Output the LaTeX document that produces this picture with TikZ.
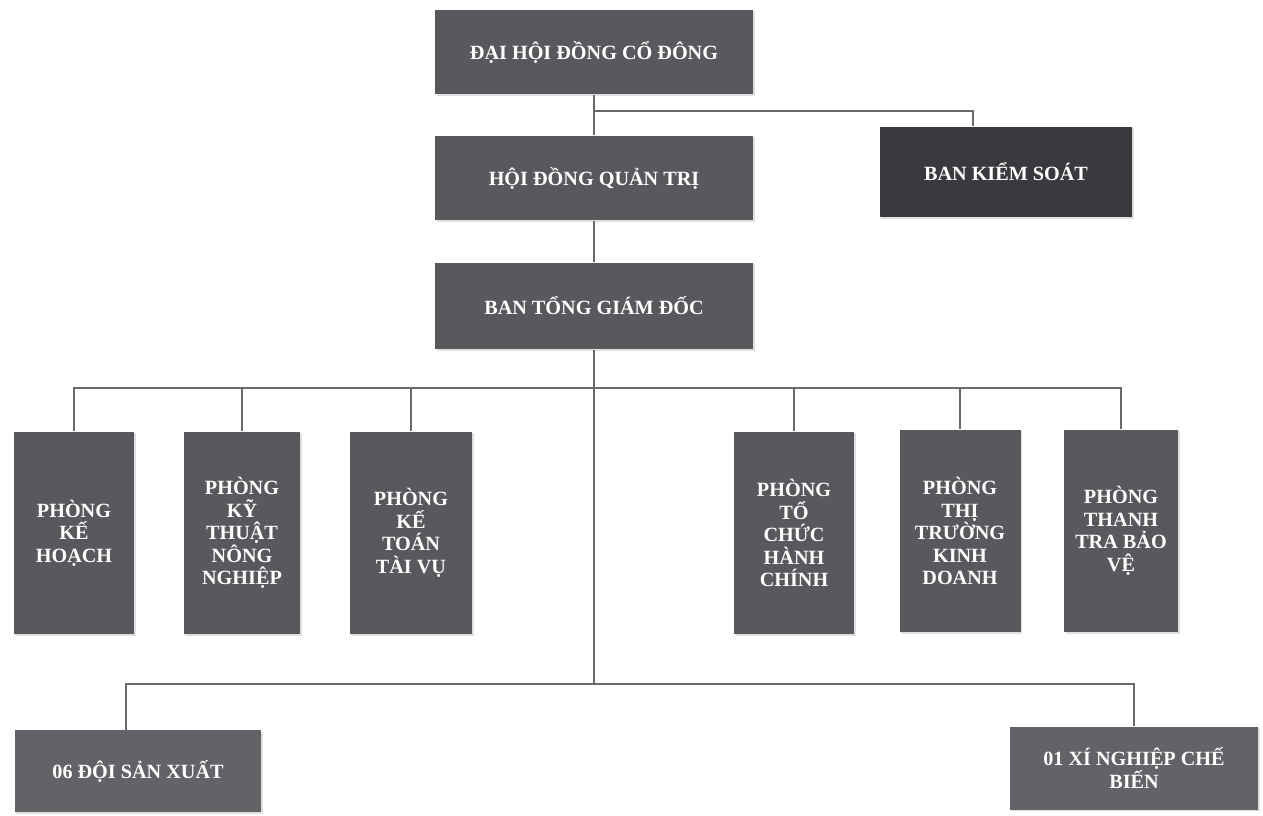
\documentclass[tikz,border=0pt]{standalone}
\usepackage{fontspec}
\setmainfont{Liberation Serif}
\usetikzlibrary{shadows}

\definecolor{boxgray}{RGB}{88,88,93}
\definecolor{boxdark}{RGB}{58,58,62}
\definecolor{boxlight}{RGB}{98,98,103}
\definecolor{linegray}{RGB}{105,105,105}

\tikzset{
  unit/.style={fill=boxgray, text=white, font=\bfseries\fontsize{11.5}{12.8}\selectfont,
    align=center, inner sep=2pt, drop shadow={opacity=0.25, shadow xshift=1pt, shadow yshift=-1pt}},
  widebox/.style={unit, minimum width=6.36cm, minimum height=1.7cm},
  tallbox/.style={unit, minimum width=2.4cm, minimum height=4.06cm},
  link/.style={draw=linegray, line width=0.8pt}
}

\begin{document}
\begin{tikzpicture}[x=0.02cm, y=-0.02cm]
  \useasboundingbox (0,0) rectangle (1263,815);

  % top levels
  \node[widebox] (dhdcd) at (594,52) {ĐẠI HỘI ĐỒNG CỔ ĐÔNG};
  \node[widebox] (hdqt) at (594,178) {HỘI ĐỒNG QUẢN TRỊ};
  \node[widebox, fill=boxdark, minimum width=5.06cm, minimum height=1.82cm] (bks) at (1006,172) {BAN KIỂM SOÁT};
  \node[widebox, minimum height=1.74cm] (btgd) at (594,306) {BAN TỔNG GIÁM ĐỐC};

  % departments
  \node[tallbox, minimum width=2.42cm] (pkh) at (74,533) {PHÒNG\\KẾ\\HOẠCH};
  \node[tallbox, minimum width=2.34cm] (pktnn) at (242,533) {PHÒNG\\KỸ\\THUẬT\\NÔNG\\NGHIỆP};
  \node[tallbox, minimum width=2.46cm] (pkttv) at (411,533) {PHÒNG\\KẾ\\TOÁN\\TÀI VỤ};
  \node[tallbox] (ptchc) at (794,533) {PHÒNG\\TỔ\\CHỨC\\HÀNH\\CHÍNH};
  \node[tallbox, minimum width=2.42cm] (pttkd) at (960,531) {PHÒNG\\THỊ\\TRƯỜNG\\KINH\\DOANH};
  \node[tallbox, minimum width=2.28cm] (pttbv) at (1121,531) {PHÒNG\\THANH\\TRA BẢO\\VỆ};

  % production units
  \node[widebox, fill=boxlight, minimum width=4.94cm, minimum height=1.64cm] (dsx) at (138,771) {06 ĐỘI SẢN XUẤT};
  \node[widebox, fill=boxlight, minimum width=4.96cm, minimum height=1.66cm] (xncb) at (1134,768) {01 XÍ NGHIỆP CHẾ\\BIẾN};

  \coordinate (j1) at (594,111);
  \coordinate (bus) at (594,388);
  \coordinate (j3) at (594,684);

  \draw[link] (dhdcd.south) -- (hdqt.north);
  \draw[link] (j1) -| ([xshift=-0.66cm]bks.north);
  \draw[link] (hdqt.south) -- (btgd.north);
  \draw[link] (btgd.south) -- (j3);
  \draw[link] (pkh.north) |- (bus) -| (pttbv.north);
  \foreach \d in {pktnn,pkttv,ptchc,pttkd}
    \draw[link] (\d.north) -- (\d.north |- bus);
  \draw[link] ([xshift=-0.24cm]dsx.north) |- (j3) -| (xncb.north);
\end{tikzpicture}
\end{document}
